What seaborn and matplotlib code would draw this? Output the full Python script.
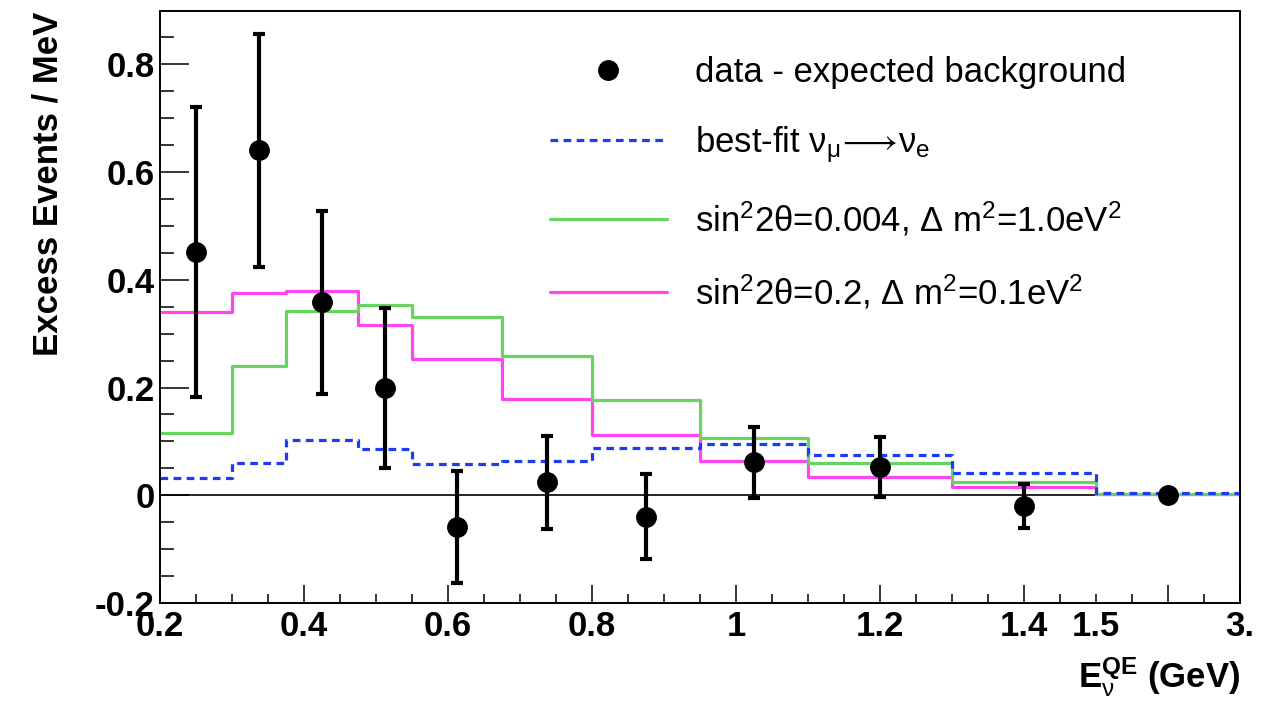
import numpy as np
import matplotlib
matplotlib.use("Agg")
import matplotlib.pyplot as plt
from matplotlib.lines import Line2D
from matplotlib.ticker import FixedLocator, FuncFormatter, MultipleLocator
import seaborn as sns

# ---------------- data ----------------
bin_edges = [0.2, 0.3, 0.375, 0.475, 0.55, 0.675, 0.8, 0.95, 1.1, 1.3, 1.5, 3.0]
data_y = [0.451, 0.640, 0.358, 0.199, -0.059, 0.024, -0.040, 0.061, 0.052, -0.020, 0.000]
data_err = [0.269, 0.216, 0.170, 0.148, 0.104, 0.086, 0.079, 0.066, 0.056, 0.040, 0.004]
bestfit = [0.032, 0.059, 0.102, 0.085, 0.058, 0.064, 0.087, 0.095, 0.074, 0.042, 0.005]
green_model = [0.116, 0.240, 0.342, 0.354, 0.331, 0.259, 0.176, 0.107, 0.059, 0.025, 0.003]
magenta_model = [0.340, 0.375, 0.380, 0.316, 0.253, 0.178, 0.112, 0.064, 0.034, 0.015, 0.002]

xtick_pos = [0.2, 0.4, 0.6, 0.8, 1.0, 1.2, 1.4, 2.25, 3.0]
xtick_labels = ["0.2", "0.4", "0.6", "0.8", "1", "1.2", "1.4", "", "3."]

labels = [
    "data - expected background",
    "best-fit ν$_{\\mathrm{μ}}\\!\\longrightarrow\\!$ν$_{\\mathrm{e}}$",
    "sin$^{\\mathrm{2}}$2θ=0.004, Δ m$^{\\mathrm{2}}$=1.0eV$^{\\mathrm{2}}$",
    "sin$^{\\mathrm{2}}$2θ=0.2, Δ m$^{\\mathrm{2}}$=0.1eV$^{\\mathrm{2}}$",
]

C_BLUE = "#1b3cf2"
C_GREEN = "#66d45f"
C_MAG = "#ff44f2"

# ---------------- style ----------------
sns.set_theme(style="white")
plt.rcParams["font.family"] = ["Liberation Sans", "DejaVu Sans"]
plt.rcParams["mathtext.fontset"] = "custom"
plt.rcParams["mathtext.rm"] = "Liberation Sans"
plt.rcParams["mathtext.it"] = "Liberation Sans:italic"
plt.rcParams["mathtext.bf"] = "Liberation Sans:bold"
plt.rcParams["mathtext.fallback"] = "stixsans"
for k in ["text.color", "axes.labelcolor", "xtick.color", "ytick.color"]:
    plt.rcParams[k] = "black"

FS = 25

fig = plt.figure(figsize=(12.66, 7.01), dpi=100)
ax = fig.add_axes([0.1264, 0.1398, 0.9795 - 0.1264, 0.9836 - 0.1398])


def fwd(x):
    x = np.asarray(x, dtype=float)
    return np.where(x <= 1.5, x, 1.5 + (x - 1.5) * (0.2 / 1.5))


def inv(f):
    f = np.asarray(f, dtype=float)
    return np.where(f <= 1.5, f, 1.5 + (f - 1.5) * 7.5)


ax.set_xscale("function", functions=(fwd, inv))
ax.set_xlim(0.2, 3.0)
ax.set_ylim(-0.2, 0.898)

edges = np.array(bin_edges)
centers = 0.5 * (edges[:-1] + edges[1:])

ax.axhline(0, color="black", lw=1.2, zorder=1)

for vals, col, ls in [
    (magenta_model, C_MAG, "-"),
    (green_model, C_GREEN, "-"),
    (bestfit, C_BLUE, (0, (2.4, 1.7))),
]:
    sns.lineplot(x=edges, y=list(vals) + [vals[-1]], drawstyle="steps-post",
                 color=col, lw=2.3, linestyle=ls, ax=ax, sort=False,
                 estimator=None, legend=False, zorder=2)

ax.errorbar(centers, data_y, yerr=data_err, fmt="o", ms=14, color="black",
            elinewidth=3, capsize=4.5, capthick=3, zorder=4)

# ---------------- axes ----------------
ax.xaxis.set_major_locator(FixedLocator(xtick_pos))
ax.set_xticklabels(xtick_labels)
minor_f = np.round(np.arange(0.25, 1.70, 0.05), 3)
minor_f = [m for m in minor_f if not np.isclose(m % 0.2, 0) and not np.isclose(m % 0.2, 0.2)]
ax.xaxis.set_minor_locator(FixedLocator(inv(np.array(minor_f))))
ax.xaxis.set_minor_formatter(FuncFormatter(lambda v, p: "1.5" if abs(v - 1.5) < 1e-6 else ""))

ax.yaxis.set_major_locator(MultipleLocator(0.2))
ax.yaxis.set_minor_locator(MultipleLocator(0.05))
ax.yaxis.set_major_formatter(FuncFormatter(lambda v, p: "0" if abs(v) < 1e-9 else f"{v:g}"))

ax.tick_params(axis="x", which="major", direction="in", length=13, width=1.1,
               labelsize=FS, pad=5, bottom=True, top=False)
ax.tick_params(axis="x", which="minor", direction="in", length=6.5, width=1.1,
               labelsize=FS, pad=5, bottom=True, top=False)
ax.tick_params(axis="y", which="major", direction="in", length=21, width=1.1,
               labelsize=FS, pad=4, left=True, right=False)
ax.tick_params(axis="y", which="minor", direction="in", length=10, width=1.1,
               left=True, right=False)
for lab in ax.get_xticklabels(which="both") + ax.get_yticklabels():
    lab.set_fontweight("bold")

for sp in ax.spines.values():
    sp.set_color("black")
    sp.set_linewidth(1.4)

ax.set_xlabel("$\\mathbf{E}_{\\mathrm{ν}}^{\\mathbf{QE}}$ (GeV)", fontsize=FS,
              fontweight="bold", loc="right", labelpad=9)
ax.set_ylabel("Excess Events / MeV", fontsize=FS, fontweight="bold",
              loc="top", labelpad=22)

# ---------------- legend ----------------
handles = [
    Line2D([], [], color="black", marker="o", ms=14, linestyle="none"),
    Line2D([], [], color=C_BLUE, lw=2.3, linestyle=(0, (2.4, 1.7))),
    Line2D([], [], color=C_GREEN, lw=2.3),
    Line2D([], [], color=C_MAG, lw=2.3),
]
leg = ax.legend(handles, labels, loc="upper left", bbox_to_anchor=(0.361, 0.924),
                frameon=False, fontsize=FS, handlelength=3.37, handletextpad=0.8,
                labelspacing=1.0, borderpad=0, borderaxespad=0, numpoints=1)

fig.savefig("out.png", dpi=100)
